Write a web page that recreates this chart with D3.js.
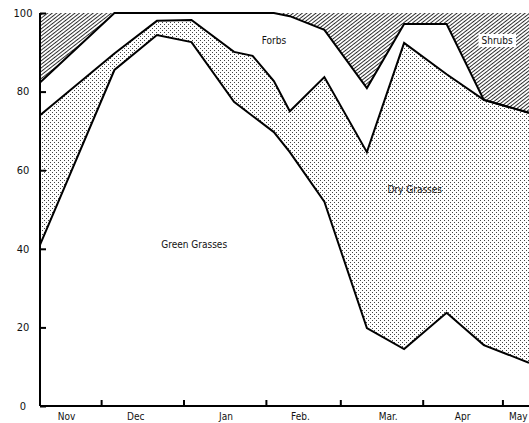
<!DOCTYPE html>
<html>
<head>
<meta charset="utf-8">
<script src="https://cdn.jsdelivr.net/npm/d3@7"></script>
<style>
  html, body { margin: 0; padding: 0; background: #fff; }
  svg { display: block; }
  text { font-family: "Liberation Sans Narrow", "DejaVu Sans Condensed", "Arial Narrow", sans-serif; fill: #111; }
</style>
</head>
<body>
<svg id="chart" width="529" height="423"></svg>
<script>
// ---- data (percent of diet) ----
const dates = ["1978-11-08","1978-12-06","1978-12-22","1979-01-04","1979-01-20","1979-01-27",
               "1979-02-04","1979-02-10","1979-02-23","1979-03-11","1979-03-25","1979-04-10",
               "1979-04-24","1979-05-11"];
const greenGrasses = [41.0, 85.5, 94.4, 92.6, 77.4, 73.8, 69.7, 64.6, 52.0, 19.8, 14.5, 23.7, 15.5, 11.0];
const dryGrasses   = [33.0,  4.2,  3.6,  5.6, 12.7, 15.3, 13.0, 10.4, 31.7, 44.8, 77.9, 60.7, 62.4, 63.6];
const forbs        = [ 8.3, 10.3,  2.0,  1.8,  9.9, 10.9, 17.3, 24.2, 12.0, 16.3,  4.8, 12.8,  0.0,  0.0];
const shrubs       = [17.7,  0.0,  0.0,  0.0,  0.0,  0.0,  0.0,  0.8,  4.3, 19.1,  2.8,  2.8, 22.1, 25.4];

const yTicks = [0, 20, 40, 60, 80, 100];
const monthTicks = ["1978-12-01","1979-01-01","1979-02-01","1979-03-01","1979-04-01","1979-05-01"];
const monthLabels = ["Nov","Dec","Jan","Feb.","Mar.","Apr","May"];
const monthLabelDates = ["1978-11-18","1978-12-14","1979-01-17","1979-02-14","1979-03-19","1979-04-16","1979-05-07"];
const areaLabels = ["Green Grasses","Dry Grasses","Forbs","Shrubs"];
const areaLabelDates = ["1979-01-05","1979-03-29","1979-02-04","1979-04-29"];
const areaLabelValues = [41, 55, 93, 93];

// ---- build ----
const parse = d3.timeParse("%Y-%m-%d");
const keys = ["green","dry","forbs","shrubs"];
const table = dates.map((d, i) => ({date: parse(d), green: greenGrasses[i], dry: dryGrasses[i], forbs: forbs[i], shrubs: shrubs[i]}));
const series = d3.stack().keys(keys)(table);

const svg = d3.select("#chart");
const x = d3.scaleTime().domain([parse("1978-11-08"), parse("1979-05-11")]).range([40, 529]);
const y = d3.scaleLinear().domain([0, 100]).range([406, 13]);

const defs = svg.append("defs");
const dots = defs.append("pattern").attr("id","dots").attr("patternUnits","userSpaceOnUse")
  .attr("width",4).attr("height",4);
dots.append("rect").attr("x",0).attr("y",0).attr("width",1).attr("height",1).attr("fill","#444");
dots.append("rect").attr("x",2).attr("y",2).attr("width",1).attr("height",1).attr("fill","#444");
const hatch = defs.append("pattern").attr("id","hatch").attr("patternUnits","userSpaceOnUse")
  .attr("width",6).attr("height",2.8).attr("patternTransform","rotate(-38)");
hatch.append("line").attr("x1",0).attr("y1",0.5).attr("x2",6).attr("y2",0.5)
  .attr("stroke","#111").attr("stroke-width",0.9);

const fills = {green: "#fff", dry: "url(#dots)", forbs: "#fff", shrubs: "url(#hatch)"};
const area = d3.area().x(d => x(d.data.date)).y0(d => y(d[0])).y1(d => y(d[1]));
svg.append("g").selectAll("path").data(series).join("path")
  .attr("d", area).attr("fill", d => fills[d.key]).attr("stroke","none");

// boundary lines (tops of green, dry, forbs)
const line = d3.line().x(d => x(d.data.date)).y(d => y(d[1]));
svg.append("g").selectAll("path").data(series.slice(0,3)).join("path")
  .attr("d", line).attr("fill","none").attr("stroke","#000")
  .attr("stroke-width",2).attr("stroke-linejoin","miter");

// axes
const gx = svg.append("g").attr("transform", `translate(0,${y(0)})`);
gx.call(d3.axisTop(x).tickValues(monthTicks.map(parse)).tickSize(6).tickFormat(""));
gx.select(".domain").attr("d", `M${x.range()[0]},0H${x.range()[1]}`);
gx.selectAll("path,line").attr("stroke","#000").attr("stroke-width",2);

const gy = svg.append("g").attr("transform", `translate(${x.range()[0]},0)`);
gy.call(d3.axisRight(y).tickValues(yTicks).tickSize(6).tickFormat(""));
gy.select(".domain").attr("d", `M0,${y(0)}V${y(100)}`);
gy.selectAll("path,line").attr("stroke","#000").attr("stroke-width",2);

svg.append("g").selectAll("text").data(yTicks).join("text")
  .attr("x", 23).attr("y", d => y(d)).attr("dy","0.35em")
  .attr("text-anchor","middle").attr("font-size",11).text(d => d);

svg.append("g").selectAll("text").data(monthLabels).join("text")
  .attr("x", (d,i) => x(parse(monthLabelDates[i]))).attr("y", 420)
  .attr("text-anchor","middle").attr("font-size",10).text(d => d);

// area labels
const lab = svg.append("g").selectAll("g").data(areaLabels).join("g")
  .attr("transform", (d,i) => `translate(${x(parse(areaLabelDates[i]))},${y(areaLabelValues[i])})`);
lab.append("rect");
lab.append("text").attr("text-anchor","middle").attr("dy","0.35em").attr("font-size",10).text(d => d);
lab.each(function(d) {
  const g = d3.select(this);
  if (d === "Shrubs") {
    const b = g.select("text").node().getBBox();
    g.select("rect").attr("x", b.x - 3).attr("y", b.y - 1).attr("width", b.width + 6)
      .attr("height", b.height + 2).attr("fill", "#fff");
  } else g.select("rect").remove();
});
</script>
</body>
</html>
